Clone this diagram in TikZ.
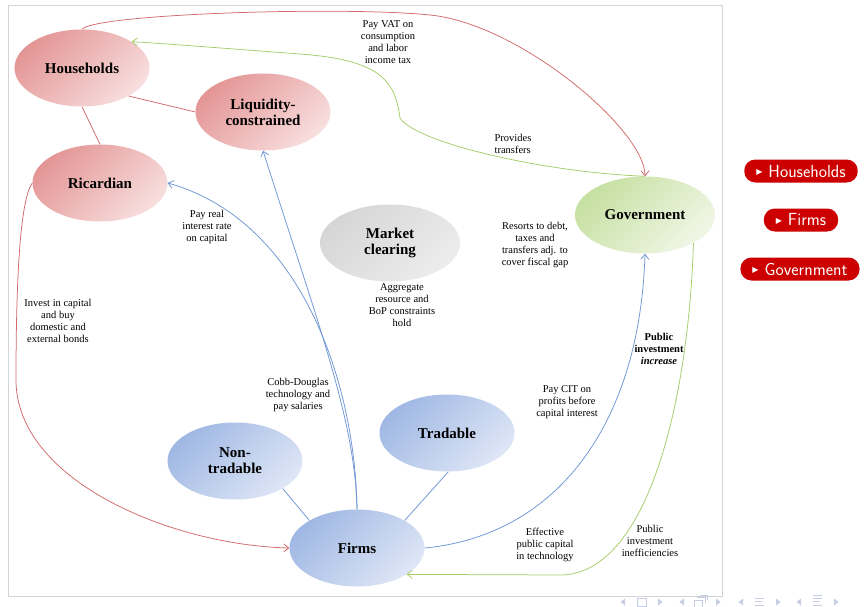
\documentclass[tikz,border=0pt]{standalone}
\usepackage{fontspec}
\setmainfont{Liberation Serif}
\newfontfamily\symf{DejaVu Sans}
\usetikzlibrary{shapes.geometric,arrows.meta}

\definecolor{pinkD}{RGB}{228,150,150}
\definecolor{pinkL}{RGB}{248,222,222}
\definecolor{blueD}{RGB}{160,184,228}
\definecolor{blueL}{RGB}{222,230,246}
\definecolor{greenD}{RGB}{198,224,162}
\definecolor{greenL}{RGB}{240,246,230}
\definecolor{grayD}{RGB}{214,214,214}
\definecolor{grayL}{RGB}{236,236,236}
\definecolor{lnred}{RGB}{210,105,105}
\definecolor{lnblue}{RGB}{110,150,212}
\definecolor{lngreen}{RGB}{165,205,105}
\definecolor{btnred}{RGB}{204,0,0}
\definecolor{navc}{RGB}{200,205,230}
\definecolor{framec}{RGB}{212,212,212}

\tikzset{
  ell/.style={ellipse, minimum width=135pt, minimum height=77pt, inner sep=0pt,
    font=\fontsize{15}{16}\selectfont\bfseries, align=center, shading angle=45},
  pinkE/.style={ell, top color=pinkD, bottom color=pinkL, shading angle=45},
  blueE/.style={ell, top color=blueD, bottom color=blueL, shading angle=45},
  greenE/.style={ell, top color=greenD, bottom color=greenL, shading angle=45},
  grayE/.style={ell, top color=grayD, bottom color=grayL, shading angle=45},
  lbl/.style={align=center, font=\fontsize{10.5}{12}\selectfont, inner sep=0pt},
  ln/.style={line width=0.75pt},
  arr/.style={ln, -{Straight Barb[length=5pt,width=8pt]}},
  btn/.style={rounded corners=11pt, fill=btnred, text=white, inner xsep=12pt,
    inner ysep=0pt, minimum height=23pt, font=\sffamily\fontsize{17.5}{18}\selectfont},
  nav/.style={navc, line width=0.9pt}
}
\newcommand{\btntri}{\raisebox{2.5pt}{\symf\fontsize{8}{8}\selectfont ▶}\hspace{6pt}}

\begin{document}
\begin{tikzpicture}[x=1pt,y=-1pt]
\useasboundingbox (0,0) rectangle (864,607);
\fill[white] (0,0) rectangle (864,607);
\draw[framec, line width=0.8pt] (8,5) rectangle (722,596);

% nodes
\node[pinkE] (hh) at (82,68) {Households};
\node[pinkE] (lc) at (263,112) {Liquidity-\\constrained};
\node[pinkE] (rc) at (100,183) {Ricardian};
\node[grayE, minimum width=140pt] (mc) at (390,243) {Market\\clearing};
\node[greenE, minimum width=140pt] (gov) at (645,215) {Government};
\node[blueE] (nt) at (235,461) {Non-\\tradable};
\node[blueE] (td) at (447,433) {Tradable};
\node[blueE] (fm) at (357,548) {Firms};

% plain links
\draw[ln, lnred] (hh.-31) -- (lc.west);
\draw[ln, lnred] (hh.south) -- (rc.north);
\draw[ln, lnblue] (nt.-30) -- (fm.150);
\draw[ln, lnblue] (td.-88) -- (fm.30);

% curved arrows
\draw[arr, lnred] (hh.north) .. controls (95,14) and (340,6) .. (430,15)
   .. controls (520,24) and (645,130) .. (gov.north);
\draw[arr, lngreen] (gov.north) .. controls (540,172) and (415,142) .. (400,118)
   .. controls (395,80) and (380,60) .. (300,54)
   .. controls (220,48) and (170,44) .. (hh.28);
\draw[arr, lnblue] (fm.north) .. controls (355,420) and (320,330) .. (lc.south);
\draw[arr, lnblue] (fm.north) .. controls (355,380) and (300,220) .. (rc.east);
\draw[arr, lnblue] (fm.east) .. controls (560,535) and (640,420) .. (gov.south);
\draw[arr, lngreen] (gov.-30) .. controls (688,410) and (645,575) .. (560,575) -- (fm.-28);
\draw[arr, lnred] (rc.west) .. controls (20,200) and (16,280) .. (16,380)
   .. controls (16,480) and (170,545) .. (fm.west);

% labels
\node[lbl] (l1) at (388,42) {Pay VAT on\\consumption\\and labor\\income tax};
\node[lbl, align=left] (l2) at (513,144) {Provides\\transfers};
\node[lbl] (l3) at (207,227) {Pay real\\interest rate\\on capital};
\node[lbl] (l4) at (535,245) {Resorts to debt,\\taxes and\\transfers adj. to\\cover fiscal gap};
\node[lbl] (l5) at (402,305) {Aggregate\\resource and\\BoP constraints\\hold};
\node[lbl] (l6) at (58,321) {Invest in capital\\and buy\\domestic and\\external bonds};
\node[lbl] (l7) at (298,395) {Cobb-Douglas\\technology and\\pay salaries};
\node[lbl, font=\fontsize{10.5}{12}\selectfont\bfseries] (l8) at (659,349) {Public\\investment\\\textit{increase}};
\node[lbl] (l9) at (567,402) {Pay CIT on\\profits before\\capital interest};
\node[lbl] (l10) at (545,545) {Effective\\public capital\\in technology};
\node[lbl] (l11) at (650,541) {Public\\investment\\inefficiencies};

% buttons
\node[btn] (b1) at (801,171) {\btntri Households};
\node[btn] (b2) at (801,220) {\btntri Firms};
\node[btn] (b3) at (800,269) {\btntri Government};

% navigation symbols
\begin{scope}[navc]
 \fill (625,598.5) -- (625,605.5) -- (620.5,602) -- cycle;
 \draw[nav] (637,598) rectangle (646,606);
 \fill (658,598.5) -- (658,605.5) -- (662.5,602) -- cycle;
 \fill (684,598.5) -- (684,605.5) -- (679.5,602) -- cycle;
 \draw[nav] (694,600) rectangle (702,607);
 \draw[nav] (697,597.5) -- (705,597.5) -- (705,603);
 \draw[nav] (699.5,595) -- (707.5,595) -- (707.5,600);
 \fill (716,598.5) -- (716,605.5) -- (720.5,602) -- cycle;
 \fill (743,598.5) -- (743,605.5) -- (738.5,602) -- cycle;
 \draw[nav] (755,598) -- (764,598) (755,601.5) -- (762,601.5) (755,605) -- (764,605);
 \fill (776,598.5) -- (776,605.5) -- (780.5,602) -- cycle;
 \fill (801,598.5) -- (801,605.5) -- (796.5,602) -- cycle;
 \draw[nav] (813,595.5) -- (822,595.5) (813,598.5) -- (822,598.5) (813,601.5) -- (820,601.5) (813,605) -- (822,605);
 \fill (834,598.5) -- (834,605.5) -- (838.5,602) -- cycle;
\end{scope}
\end{tikzpicture}
\end{document}
